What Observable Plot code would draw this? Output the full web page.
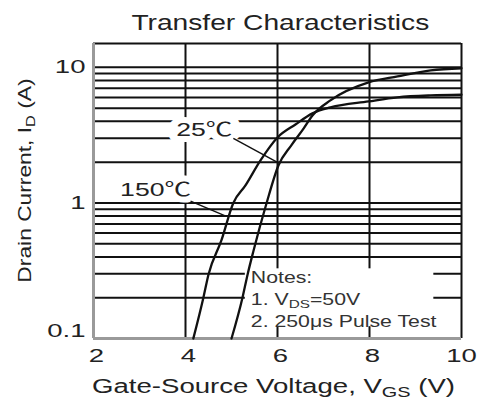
<!DOCTYPE html>
<html>
<head>
<meta charset="utf-8">
<script src="https://cdn.jsdelivr.net/npm/d3@7"></script>
<script src="https://cdn.jsdelivr.net/npm/@observablehq/plot@0.6"></script>
<style>
  html, body { margin: 0; padding: 0; background: #fff; }
  #wrap { width: 485px; height: 401px; position: relative; overflow: hidden; background: #fff; }
  #title { box-sizing: border-box; width: 485px; height: 36px; padding-top: 10px; padding-left: 75px;
           line-height: 26px; text-align: center; font: 22px "Liberation Sans", Arial, sans-serif; color: #222; white-space: nowrap; }
  #title span { display: inline-block; transform: scaleX(1.28); }
  #chart svg { display: block; }
</style>
</head>
<body>
<div id="wrap">
  <div id="title"><span></span></div>
  <div id="chart"></div>
</div>
<script>
// ---------- data ----------
const title = "Transfer Characteristics";
const xLabel = "Gate-Source Voltage, V_GS (V)";
const yLabel = "Drain Current, I_D (A)";
const xTicks = [2, 4, 6, 8, 10];
const xTickLabels = ["2", "4", "6", "8", "10"];
const yTicks = [0.1, 1, 10];
const yTickLabels = ["0.1", "1", "10"];
const xGrid = [4, 6, 8];
const yGrid = [0.2, 0.3, 0.4, 0.5, 0.6, 0.7, 0.8, 0.9, 1, 2, 3, 4, 5, 6, 7, 8, 9, 10];
const seriesNames = ["25℃", "150℃"];
const vgs25  = [5.00, 5.24, 5.35, 5.48, 5.76, 6.02, 6.30, 6.57, 6.76, 7.15, 7.98, 8.61, 9.33, 10.0];
const id25   = [0.100, 0.201, 0.297, 0.446, 0.99, 1.89, 2.66, 3.55, 4.42, 5.71, 7.75, 8.58, 9.50, 9.85];
const vgs150 = [4.17, 4.39, 4.50, 4.78, 5.04, 5.30, 5.63, 6.00, 6.39, 6.76, 7.15, 7.98, 8.61, 9.33, 10.0];
const id150  = [0.100, 0.201, 0.297, 0.529, 1.00, 1.34, 2.06, 3.04, 3.79, 4.58, 5.07, 5.61, 6.01, 6.21, 6.28];
const noteLines = ["Notes:", "1. V_DS=50V", "2. 250μs Pulse Test"];

// ---------- annotation anchors (data units) ----------
const seriesLabels = [
  {text: seriesNames[0], x: 4.41, y: 3.46, x1: 5.04, y1: 2.99, x2: 6.00, y2: 1.99},
  {text: seriesNames[1], x: 3.35, y: 1.24, x1: 4.11, y1: 1.03, x2: 4.89, y2: 0.796}
];
const notesAnchor = {x: 5.42, y: 0.336};

// ---------- build rows ----------
const rows = [
  ...vgs25.map((v, i) => ({series: seriesNames[0], vgs: v, id: id25[i]})),
  ...vgs150.map((v, i) => ({series: seriesNames[1], vgs: v, id: id150[i]}))
];

document.querySelector("#title span").textContent = title;

const FONT = "'Liberation Sans', Arial, Helvetica, sans-serif";
const INK = "#222";

const chart = Plot.plot({
  width: 485,
  height: 365,
  marginTop: 7,
  marginBottom: 63,
  marginLeft: 93,
  marginRight: 24,
  style: {fontFamily: FONT, fontSize: "19px", color: INK, background: "white", overflow: "visible"},
  x: {domain: [2, 10], ticks: xTicks, tickSize: 0, tickPadding: 10, label: null,
      tickFormat: d => xTickLabels[xTicks.indexOf(d)]},
  y: {type: "log", domain: [0.1, 15], ticks: yTicks, tickSize: 0, tickPadding: 8, label: null,
      tickFormat: d => yTickLabels[yTicks.findIndex(t => Math.abs(t - d) < 1e-9)]},
  marks: [
    Plot.ruleY(yGrid, {stroke: "#111", strokeWidth: 2}),
    Plot.ruleX(xGrid, {stroke: "#111", strokeWidth: 2}),
    Plot.ruleX([10], {stroke: "#111", strokeWidth: 2}),
    Plot.ruleY([15], {stroke: "#111", strokeWidth: 2}),
    Plot.ruleX([2], {stroke: "#9a9a9a", strokeWidth: 3}),
    Plot.ruleY([0.1], {stroke: "#9a9a9a", strokeWidth: 3}),
    // white halos that open the grid behind the series labels
    Plot.text(seriesLabels, {x: "x", y: "y", text: "text", fontSize: 19,
      fill: "white", stroke: "white", strokeWidth: 12}),
    Plot.line(rows, {x: "vgs", y: "id", z: "series", stroke: "#111", strokeWidth: 2.3, curve: "monotone-x"}),
    Plot.link(seriesLabels, {x1: "x1", y1: "y1", x2: "x2", y2: "y2", stroke: "#111", strokeWidth: 1.4}),
    Plot.text(seriesLabels, {x: "x", y: "y", text: "text", fontSize: 19, fill: INK}),
    Plot.text([noteLines.join("\n")], {x: () => notesAnchor.x, y: () => notesAnchor.y, text: d => d,
      lineAnchor: "top", textAnchor: "start", fontSize: 16, lineHeight: 1.375, fill: "#333"}),
    Plot.text([xLabel], {frameAnchor: "bottom", text: d => d, textAnchor: "middle", lineAnchor: "middle",
      dx: -4, dy: 48, fontSize: 20, fill: INK}),
    Plot.text([yLabel], {frameAnchor: "left", text: d => d, textAnchor: "middle", lineAnchor: "middle",
      rotate: -90, dx: -68.5, dy: -10.5, fontSize: 19, fill: INK})
  ]
});

document.getElementById("chart").appendChild(chart);
const svg = chart.tagName.toLowerCase() === "svg" ? chart : chart.querySelector("svg");
const NS = "http://www.w3.org/2000/svg";

// subscripts "_XX" -> smaller lowered tspan; "℃" -> compact CJK glyph
function restyle(el) {
  const walker = document.createTreeWalker(el, NodeFilter.SHOW_TEXT);
  const nodes = [];
  while (walker.nextNode()) nodes.push(walker.currentNode);
  for (const node of nodes) {
    const s = node.nodeValue;
    if (!/_[A-Z]+|℃/.test(s)) continue;
    const fs = parseFloat(getComputedStyle(node.parentNode).fontSize) || 16;
    const shift = (fs * 0.2).toFixed(2);
    const parts = s.split(/_([A-Z]+)|(℃)/);
    const frag = document.createDocumentFragment();
    let lowered = false;
    // split with two groups gives: text, g1, g2, text, g1, g2, ...
    parts.forEach((p, i) => {
      if (!p) return;
      const ts = document.createElementNS(NS, "tspan");
      ts.textContent = p;
      const role = i % 3;
      if (role === 1) {
        ts.setAttribute("font-size", (fs * 0.72).toFixed(2));
        ts.setAttribute("dy", shift);
        lowered = true;
      } else {
        if (role === 2) ts.setAttribute("font-family", "'Noto Sans CJK SC', 'Noto Sans CJK JP', sans-serif");
        if (lowered) { ts.setAttribute("dy", -shift); lowered = false; }
      }
      frag.appendChild(ts);
    });
    node.parentNode.replaceChild(frag, node);
  }
}

function stretch(t, k) {
  const b = t.getBBox();
  const anchor = getComputedStyle(t).textAnchor;
  const cx = anchor === "end" ? b.x + b.width : anchor === "middle" ? b.x + b.width / 2 : b.x;
  const prev = t.getAttribute("transform") || "";
  t.setAttribute("transform", `${prev} translate(${cx},0) scale(${k},1) translate(${-cx},0)`);
}

const texts = Array.from(svg.querySelectorAll("text"));
texts.forEach(restyle);
texts.forEach(t => {
  const s = t.textContent.trim();
  let k = 1.4;
  if (/^[0-9.]+$/.test(s)) k = 1.45;
  else if (s.startsWith("Drain")) k = 1.2;
  else if (s.startsWith("Gate")) k = 1.38;
  else if (s.startsWith("Notes")) k = 1.33;
  const prev = t.getAttribute("transform") || "";
  if (s === "0.1") t.setAttribute("transform", `${prev} translate(0,-8)`);
  if (["2", "4", "6", "8"].includes(s)) t.setAttribute("transform", `${prev} translate(3,0)`);
  stretch(t, k);
});

// white panel behind the notes (sized from the notes text itself), below the curves
const notesEl = texts.find(t => t.textContent.trim().startsWith("Notes"));
if (notesEl) {
  const sr = svg.getBoundingClientRect();
  const r = notesEl.getBoundingClientRect();
  const rect = document.createElementNS(NS, "rect");
  rect.setAttribute("x", r.left - sr.left - 6);
  rect.setAttribute("y", r.top - sr.top);
  rect.setAttribute("width", r.width + 2);
  rect.setAttribute("height", r.height - 4);
  rect.setAttribute("fill", "white");
  const lineG = svg.querySelector('g[aria-label="line"]');
  if (lineG) svg.insertBefore(rect, lineG); else svg.appendChild(rect);
}
</script>
</body>
</html>
